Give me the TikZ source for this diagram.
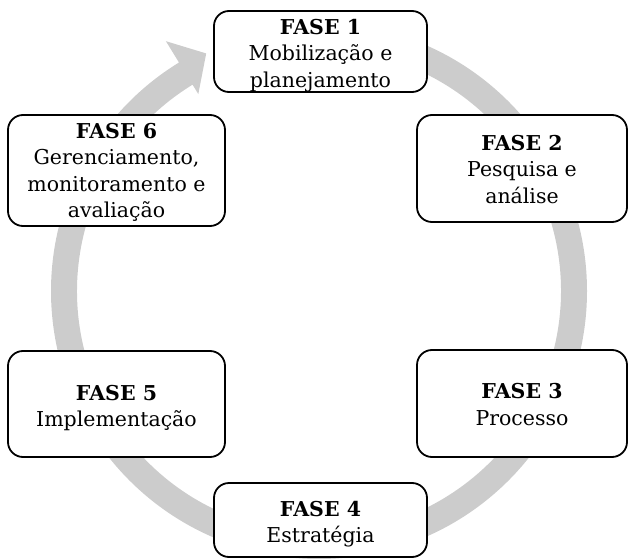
\documentclass[tikz,border=0pt]{standalone}
\usepackage{fontspec}
\setmainfont{DejaVu Serif}
\usetikzlibrary{calc}
\definecolor{ringgray}{RGB}{204,204,204}
\tikzset{
  phase/.style={draw=black, line width=1.8pt, rounded corners=15pt, fill=white, inner sep=0pt},
  phasetext/.style={align=center, inner sep=0pt, font=\fontsize{20.5}{26.5}\selectfont},
}
\begin{document}
\begin{tikzpicture}[x=1pt,y=1pt]
\useasboundingbox (0,0) rectangle (629,558);
\coordinate (c) at (319,267);
% ring arrow
\fill[ringgray] ($(c)+(90:268pt)$) arc[start angle=90, end angle=-238.5, radius=268pt]
  -- ($(c)+(-238.5:293pt)$) -- ($(c)+(-244.6:263pt)$) -- ($(c)+(-238.5:231pt)$)
  -- ($(c)+(-238.5:242pt)$) arc[start angle=-238.5, end angle=90, radius=242pt] -- cycle;
% phase boxes
\node[phase, minimum width=213pt, minimum height=81pt] (f1) at (320.5,506.5) {};
\node[phase, minimum width=210pt, minimum height=107pt] (f2) at (522,389.5) {};
\node[phase, minimum width=210pt, minimum height=107pt] (f3) at (522,154.5) {};
\node[phase, minimum width=213pt, minimum height=74pt] (f4) at (320.5,38) {};
\node[phase, minimum width=217pt, minimum height=106pt] (f5) at (116.5,154) {};
\node[phase, minimum width=217pt, minimum height=111pt] (f6) at (116.5,387.5) {};
% phase texts
\node[phasetext] (t1) at ([yshift=-4pt]f1.center) {\textbf{FASE 1}\\Mobilização e\\planejamento};
\node[phasetext] (t2) at ([yshift=-1pt]f2.center) {\textbf{FASE 2}\\Pesquisa e\\análise};
\node[phasetext] (t3) at ([yshift=-1pt]f3.center) {\textbf{FASE 3}\\Processo};
\node[phasetext] (t4) at ([yshift=-4pt]f4.center) {\textbf{FASE 4}\\Estratégia};
\node[phasetext] (t5) at ([yshift=-4pt]f5.center) {\textbf{FASE 5}\\Implementação};
\node[phasetext] (t6) at ([yshift=-2pt]f6.center) {\textbf{FASE 6}\\Gerenciamento,\\monitoramento e\\avaliação};
\end{tikzpicture}
\end{document}
